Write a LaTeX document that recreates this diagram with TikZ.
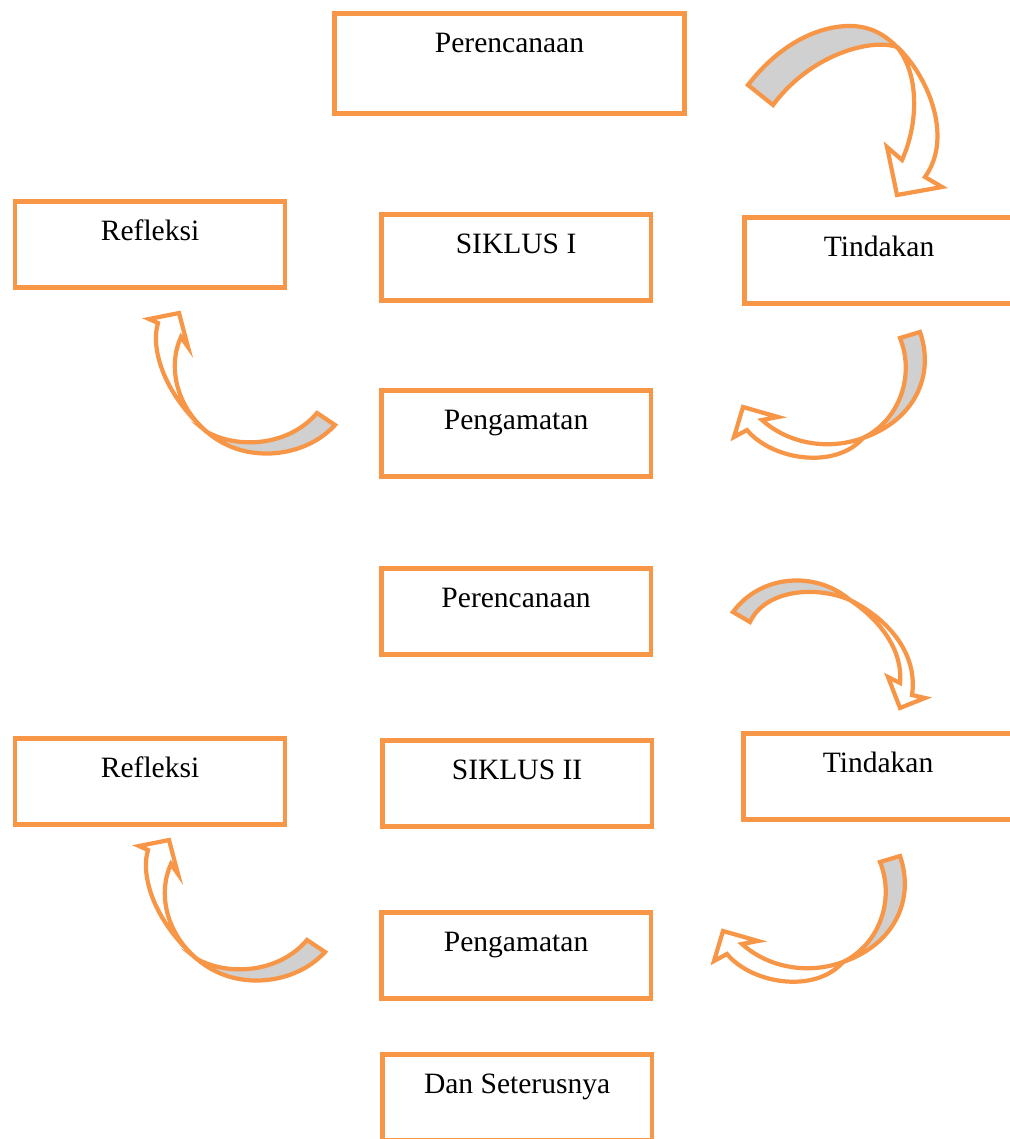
\documentclass[tikz,border=0pt]{standalone}
\usepackage{fontspec}
\setmainfont{Liberation Serif}
\definecolor{jingga}{RGB}{247,150,70}
\definecolor{abu}{RGB}{208,208,208}
\tikzset{
  kotak/.style={draw=jingga, line width=3.2pt, anchor=north west,
    inner xsep=0pt, inner ysep=0pt, minimum width=6.74cm,
    text height=0.97cm, text depth=1.19cm,
    font=\fontsize{21}{25}\selectfont},
  panahbelakang/.style={draw=jingga, fill=abu, line width=3pt, line join=miter},
  panahdepan/.style={draw=jingga, fill=white, line width=3pt, line join=miter},
}
% tindakan -> pengamatan (turun lalu ke kiri)
\newcommand{\panahbawah}{%
  \filldraw[panahbelakang] (920,332) .. controls (935,375) and (915,420) .. (863,438)
    .. controls (900,420) and (915,375) .. (900,338) -- cycle;
  \filldraw[panahdepan] (863,438) .. controls (830,450) and (790,445) .. (762,420)
    -- (778,417) -- (743,407) -- (734,437) -- (747,430)
    .. controls (772,460) and (835,470) .. (863,438) -- cycle;}
% pengamatan -> refleksi (ke kiri lalu naik)
\newcommand{\panahkiri}{%
  \filldraw[panahbelakang] (335,425) .. controls (305,458) and (245,465) .. (207,432)
    .. controls (240,450) and (290,445) .. (317,413) -- cycle;
  \filldraw[panahdepan] (207,432) .. controls (165,395) and (150,350) .. (158,323)
    -- (149,319) -- (179,313) -- (188,347) -- (181,337)
    .. controls (168,365) and (175,405) .. (207,432) -- cycle;}

\begin{document}
\begin{tikzpicture}[x=0.025cm,y=-0.025cm]
\clip (0,0) rectangle (1010,1139);
%---------------- siklus I
\node[kotak, minimum width=8.76cm, text depth=1.54cm] (per1) at (332,11) {Perencanaan};
\node[kotak] (ref1) at (13,199) {Refleksi};
\node[kotak] (sik1) at (379,212) {SIKLUS I};
\node[kotak] (tin1) at (742,215) {Tindakan};
\node[kotak] (pen1) at (379,388) {Pengamatan};

% perencanaan -> tindakan
\filldraw[panahbelakang] (748,85) .. controls (775,50) and (810,28) .. (846,26)
  .. controls (870,25) and (885,35) .. (897,47)
  .. controls (870,38) and (810,55) .. (773,105) -- cycle;
\filldraw[panahdepan] (897,47) .. controls (925,72) and (955,135) .. (925,177)
  -- (942,187) -- (897,195) -- (887,147) -- (902,160)
  .. controls (918,125) and (920,75) .. (897,47) -- cycle;

\panahbawah
\panahkiri

%---------------- siklus II
\node[kotak] (per2) at (379,566) {Perencanaan};
\node[kotak] (ref2) at (13,736) {Refleksi};
\node[kotak] (sik2) at (380,738) {SIKLUS II};
\node[kotak] (tin2) at (741,731) {Tindakan};
\node[kotak] (pen2) at (379,910) {Pengamatan};
\node[kotak] (dan) at (380,1052) {Dan Seterusnya};

% perencanaan -> tindakan
\filldraw[panahbelakang] (733,612) .. controls (760,575) and (815,570) .. (850,600)
  .. controls (815,585) and (765,590) .. (750,622) -- cycle;
\filldraw[panahdepan] (850,600) .. controls (890,620) and (918,655) .. (912,695)
  -- (925,698) -- (900,708) -- (888,677) -- (900,683)
  .. controls (903,650) and (880,620) .. (850,600) -- cycle;

\begin{scope}[shift={(-20,524)}]
\panahbawah
\end{scope}
\begin{scope}[shift={(-10,527)}]
\panahkiri
\end{scope}
\end{tikzpicture}
\end{document}
